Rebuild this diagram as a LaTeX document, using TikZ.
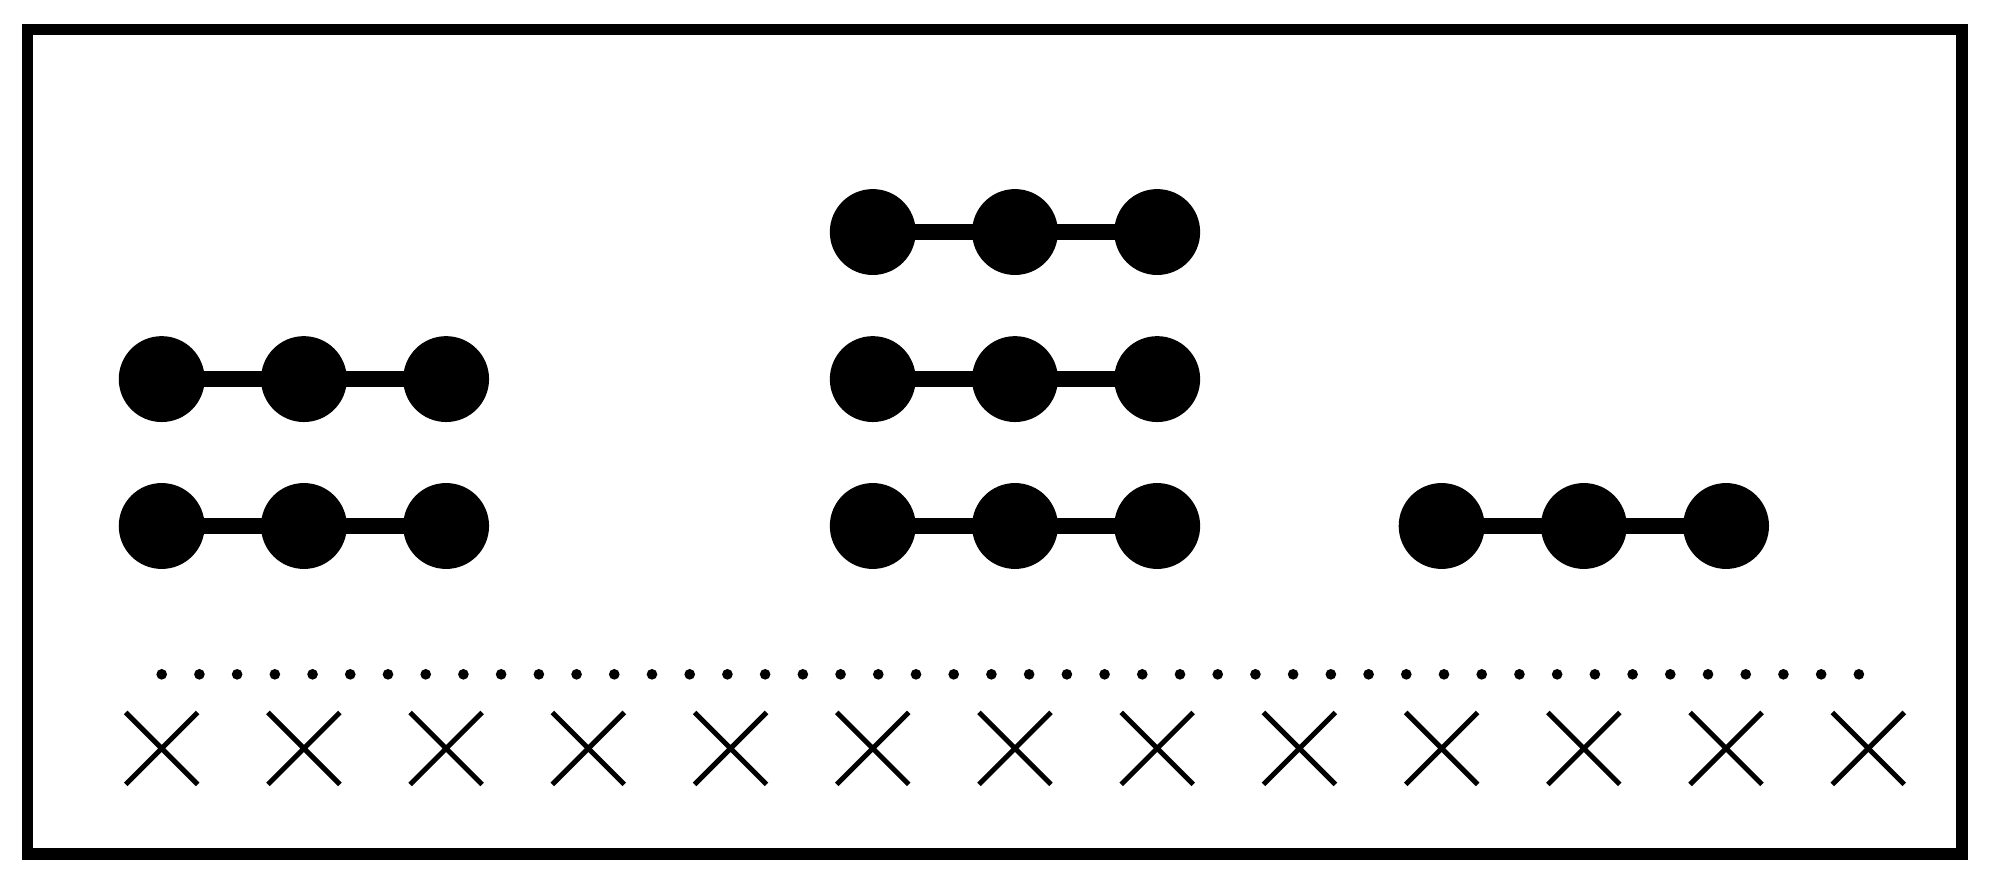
\documentclass[tikz,border=0pt]{standalone}
\usepackage{tikz}
\usetikzlibrary{positioning}
\usetikzlibrary{shapes.misc}
\tikzset{main node/.style={circle,fill=black,draw=none,minimum size=0.604cm,inner sep=0pt,outer sep=0pt}}
\tikzset{dot node/.style={circle,fill=black,draw=none,minimum size=0.075cm,inner sep=0pt,outer sep=0pt}}
\tikzset{cross node/.style={cross out,draw,line width=1pt,minimum size=0.506cm,inner sep=0pt,outer sep=0pt}}

\begin{document}
\begin{tikzpicture}
    	\useasboundingbox (0,0) rectangle (14,6.2166);
    	\draw[line width=2.3pt] (0.193,0.211) rectangle (13.797,6.009);
    
    	% chains of three
    	\foreach \n/\x/\y in {a/1.137/3.551, b/1.137/2.518, c/6.137/4.585, d/6.137/3.551, e/6.137/2.518, f/10.137/2.518} {
    		\node[main node] (\n1) at (\x,\y) {};
    		\node[main node] (\n2) [right = 0.396cm of \n1] {};
    		\node[main node] (\n3) [right = 0.396cm of \n2] {};
    		\path [line width=3.3pt]
    		(\n1.center) edge (\n2.center)
    		(\n2.center) edge (\n3.center);
    	}
    
    	% dotted row
    	\foreach \i in {0,...,45}
    		\node[dot node] (dot\i) at ({1.137+0.2652*\i},1.475) {};
    
    	% crosses
    	\foreach \i in {0,...,12}
    		\node[cross node] (x\i) at ({1.137+\i},0.954) {};
    	
    \end{tikzpicture}
\end{document}
